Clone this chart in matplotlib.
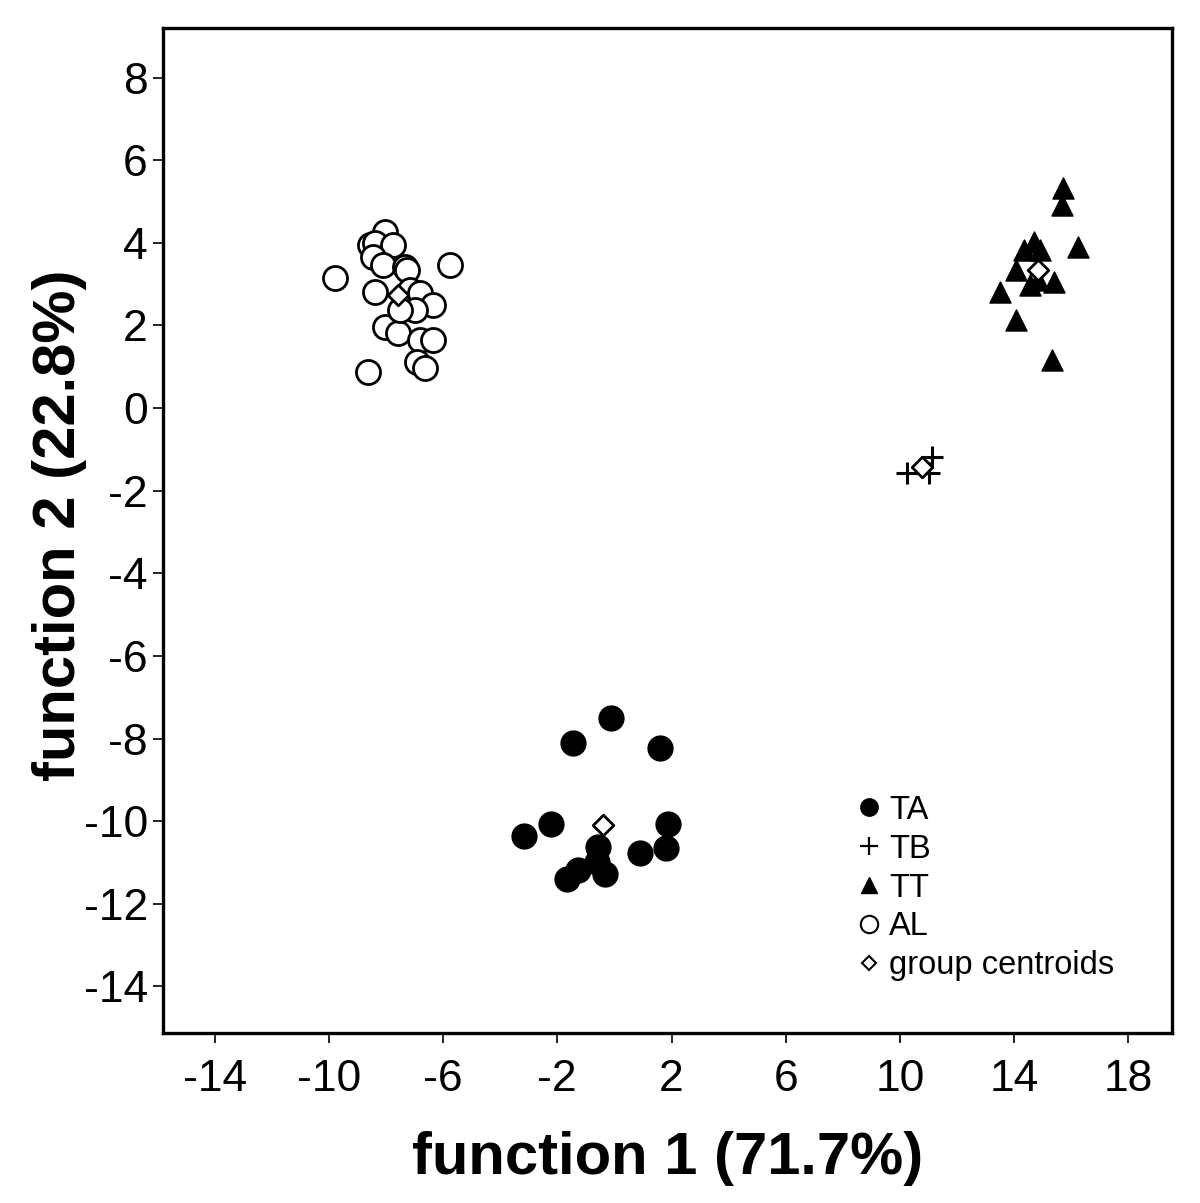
import matplotlib
matplotlib.use("Agg")
import matplotlib.pyplot as plt
from matplotlib.lines import Line2D

plt.rcParams['font.family'] = ['Liberation Sans', 'DejaVu Sans']
plt.rcParams['axes.unicode_minus'] = False

# Discriminant scores (function 1, function 2)
ta_x = [-0.12, -1.46, 1.61, -2.22, -3.18, 1.88, -0.58, 1.79, 0.88, -1.29, -1.66, -0.32, -0.60]
ta_y = [-7.50, -8.12, -8.24, -10.06, -10.36, -10.07, -10.62, -10.66, -10.78, -11.19, -11.39, -11.27, -11.00]

tb_x = [10.23, 11.13, 11.00]
tb_y = [-1.57, -1.19, -1.57]

tt_x = [15.72, 15.69, 14.68, 14.33, 14.92, 16.22, 14.05, 14.57, 15.38, 13.49, 14.08, 15.31, 14.85]
tt_y = [5.33, 4.92, 4.02, 3.83, 3.83, 3.90, 3.34, 2.98, 3.05, 2.81, 2.13, 1.16, 3.10]

al_x = [-8.02, -8.55, -8.37, -7.74, -8.44, -8.09, -7.32, -7.25, -5.74, -9.77, -8.37, -7.15,
        -6.80, -6.34, -6.97, -8.02, -7.57, -6.80, -6.34, -6.90, -6.62, -8.62, -7.50]
al_y = [4.26, 3.95, 4.00, 3.95, 3.66, 3.46, 3.41, 3.34, 3.46, 3.15, 2.81, 2.86,
        2.78, 2.49, 2.37, 1.96, 1.82, 1.65, 1.65, 1.11, 0.97, 0.87, 2.37]

centroid_x = [-0.41, 10.78, 14.82, -7.57]
centroid_y = [-10.10, -1.42, 3.34, 2.74]

group_labels = ["TA", "TB", "TT", "AL", "group centroids"]
xticks = list(range(-14, 19, 4))
yticks = list(range(-14, 9, 2))

fig = plt.figure(figsize=(12, 12.03), dpi=100)
ax = fig.add_axes([0.136, 0.1413, 0.841, 0.8354])

ax.scatter(al_x, al_y, s=300, facecolors='white', edgecolors='black', linewidths=2.0, zorder=2)
ax.scatter(ta_x, ta_y, s=320, c='black', edgecolors='black', zorder=2)
ax.scatter(tt_x, tt_y, s=230, marker='^', c='black', edgecolors='black', zorder=2)
ax.scatter(tb_x, tb_y, s=260, marker='+', c='black', linewidths=2.2, zorder=2)
ax.scatter(centroid_x, centroid_y, s=110, marker='D', facecolors='white', edgecolors='black',
           linewidths=2.0, zorder=3)

ax.set_xlim(-15.8, 19.54)
ax.set_ylim(-15.13, 9.2)
ax.set_xticks(xticks)
ax.set_yticks(yticks)
ax.tick_params(axis='both', direction='out', length=7, width=1.2, labelsize=32)
ax.tick_params(axis='y', pad=4)
ax.tick_params(axis='x', pad=12)
for sp in ax.spines.values():
    sp.set_linewidth(2.4)

ax.set_xlabel("function 1 (71.7%)", fontsize=43, fontweight='bold', labelpad=22)
ax.set_ylabel("function 2 (22.8%)", fontsize=43, fontweight='bold')
ax.yaxis.set_label_coords(-0.076, 0.505)

handles = [
    Line2D([], [], linestyle='none', marker='o', markersize=12.5, markerfacecolor='black', markeredgecolor='black'),
    Line2D([], [], linestyle='none', marker='+', markersize=13, markeredgecolor='black', markeredgewidth=1.6),
    Line2D([], [], linestyle='none', marker='^', markersize=11, markerfacecolor='black', markeredgecolor='black'),
    Line2D([], [], linestyle='none', marker='o', markersize=12.5, markerfacecolor='white', markeredgecolor='black', markeredgewidth=1.5),
    Line2D([], [], linestyle='none', marker='D', markersize=7, markerfacecolor='white', markeredgecolor='black', markeredgewidth=1.5),
]
leg = ax.legend(handles, group_labels, loc='upper left', bbox_to_anchor=(0.69, 0.237),
                frameon=False, fontsize=23.5, handlelength=0.6, handletextpad=0.3,
                labelspacing=0.24, borderpad=0, borderaxespad=0)

fig.savefig("out.png", dpi=100)
